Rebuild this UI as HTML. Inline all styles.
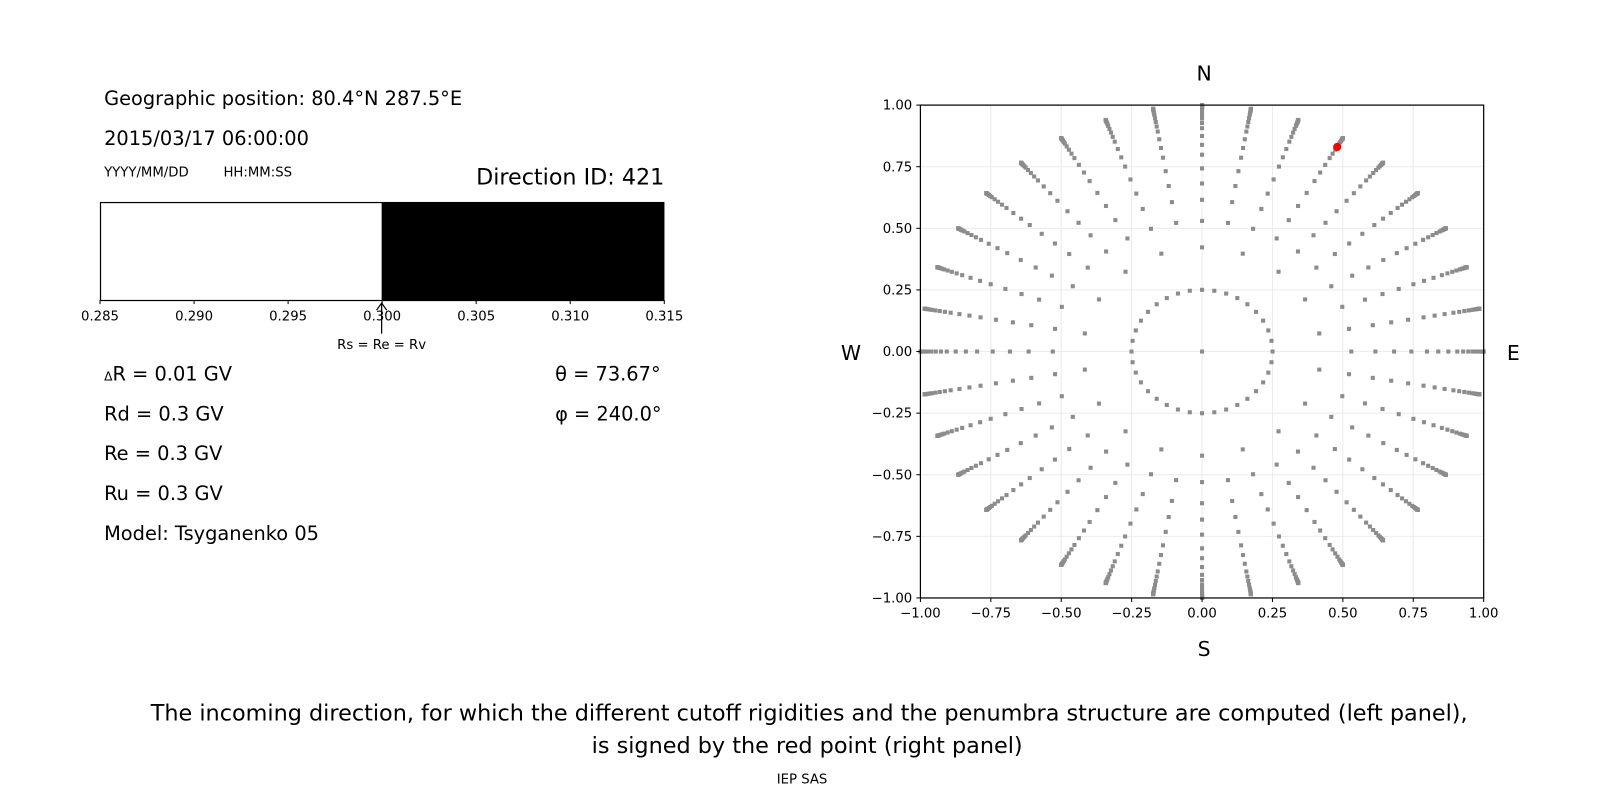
<!DOCTYPE html>
<html><head><meta charset="utf-8"><style>
body{margin:0;width:1600px;height:800px;background:#fff;overflow:hidden;font-family:"DejaVu Sans","Liberation Sans",sans-serif;}
svg text{font-family:"DejaVu Sans","Liberation Sans",sans-serif;fill:#000}
</style></head><body>
<svg id="s" width="1600" height="800" viewBox="0 0 1568 784" xmlns="http://www.w3.org/2000/svg">
<text x="102" y="103" font-size="19">Geographic position: 80.4°N 287.5°E</text>
<text x="102" y="142" font-size="19">2015/03/17 06:00:00</text>
<text x="102" y="173" font-size="13">YYYY/MM/DD</text>
<text x="219" y="173" font-size="13">HH:MM:SS</text>
<text x="651" y="181" font-size="21.8" text-anchor="end">Direction ID: 421</text>
<rect x="374" y="198" width="277" height="96" fill="#000"/>
<rect x="98.5" y="198.5" width="552" height="96" fill="none" stroke="#000" stroke-width="1.2"/>
<g id="bt" font-size="13" text-anchor="middle"></g>
<line x1="374" y1="297" x2="374" y2="327" stroke="#000" stroke-width="1.2"/>
<path d="M369,304 L374,297 L379,304" fill="none" stroke="#000" stroke-width="1.2"/>
<text x="374" y="342" font-size="13" text-anchor="middle">Rs = Re = Rv</text>
<text x="102" y="373" font-size="19"><tspan font-size="12">Δ</tspan>R = 0.01 GV</text>
<text x="102" y="412" font-size="19">Rd = 0.3 GV</text>
<text x="102" y="451" font-size="19">Re = 0.3 GV</text>
<text x="102" y="490" font-size="19">Ru = 0.3 GV</text>
<text x="102" y="529" font-size="19">Model: Tsyganenko 05</text>
<text x="544" y="373" font-size="19">θ = 73.67°</text>
<text x="544" y="412" font-size="19">φ = 240.0°</text>
<g id="grid"></g>
<g id="dots" fill="#8c8c8c"></g>
<circle cx="1310.5" cy="144" r="4" fill="#f00"/>
<rect x="902" y="103" width="552" height="483" fill="none" stroke="#000" stroke-width="1.2"/>
<g id="ax" font-size="13"></g>
<text x="1180" y="79" font-size="20" text-anchor="middle">N</text>
<text x="1180" y="643" font-size="20" text-anchor="middle">S</text>
<text x="834" y="353" font-size="20" text-anchor="middle">W</text>
<text x="1483" y="353" font-size="20" text-anchor="middle">E</text>
<text x="793" y="706" font-size="21.9" text-anchor="middle">The incoming direction, for which the different cutoff rigidities and the penumbra structure are computed (left panel),</text>
<text x="791" y="738" font-size="21.9" text-anchor="middle">is signed by the red point (right panel)</text>
<text x="786" y="768" font-size="13" text-anchor="middle">IEP SAS</text>
</svg>
<script>
var NS="http://www.w3.org/2000/svg";
function el(p,t,a,txt){var e=document.createElementNS(NS,t);for(var k in a)e.setAttribute(k,a[k]);if(txt!==undefined)e.textContent=txt;document.getElementById(p).appendChild(e);}
var bl=["0.285","0.290","0.295","0.300","0.305","0.310","0.315"];
for(var i=0;i<7;i++){var x=98+i*(553/6);el("bt","line",{x1:x,y1:294,x2:x,y2:298,stroke:"#000"});el("bt","text",{x:x,y:314},bl[i]);}
var cx=1178,cy=344.5,sx=276,sy=241.5;
var tl=["−1.00","−0.75","−0.50","−0.25","0.00","0.25","0.50","0.75","1.00"];
for(var i=0;i<9;i++){var v=-1+i*0.25;var x=cx+v*sx,y=cy-v*sy;
el("grid","line",{x1:x,y1:103,x2:x,y2:586,stroke:"#ebebeb","stroke-width":1});
el("grid","line",{x1:902,y1:y,x2:1454,y2:y,stroke:"#ebebeb","stroke-width":1});
el("ax","line",{x1:x,y1:586,x2:x,y2:590,stroke:"#000"});
el("ax","text",{x:x,y:605,"text-anchor":"middle"},tl[i]);
el("ax","line",{x1:898,y1:y,x2:902,y2:y,stroke:"#000"});
el("ax","text",{x:894,y:y+4.5,"text-anchor":"end"},tl[i]);}
var th=[14.5,25,32,38,43,48,53,57,61,65,68,71,74,77,79,81,83,84.5,86,87,88,89,90];
el("dots","rect",{x:cx-2,y:cy-2,width:4,height:4});
for(var a=0;a<360;a+=10){var r=a*Math.PI/180;
for(var j=0;j<th.length;j++){var s=Math.sin(th[j]*Math.PI/180);
if(j==1&&a%20!=0)continue;
var x=cx+s*Math.sin(r)*sx,y=cy-s*Math.cos(r)*sy;
el("dots","rect",{x:x-2,y:y-2,width:4,height:4});}}
</script>
</body></html>
